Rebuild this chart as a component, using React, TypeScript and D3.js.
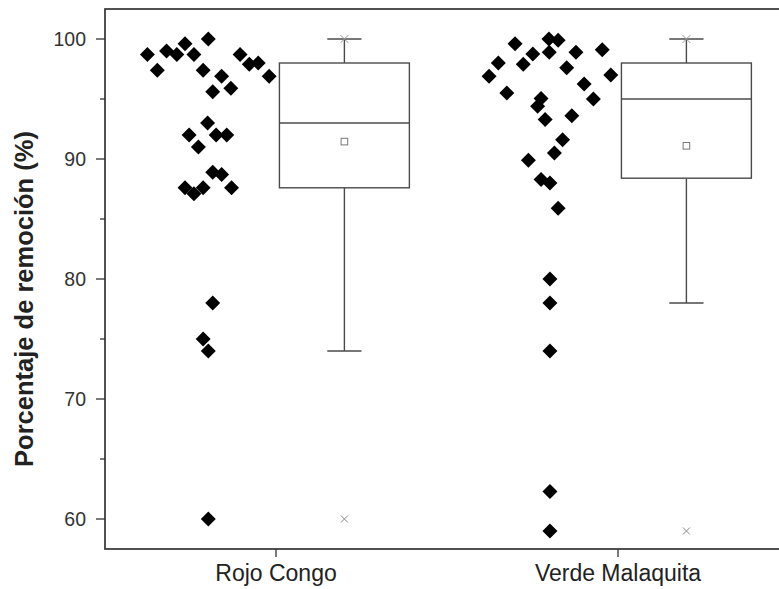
import React, { useEffect } from "react";
import * as d3 from "d3";

const categories = ["Rojo Congo", "Verde Malaquita"];

// Scatter values (% removal) and their horizontal jitter (category units)
const rojoValues = [98.7, 97.4, 99.0, 98.7, 99.6, 98.7, 100, 97.4, 96.9, 95.6, 95.9, 98.7, 97.9, 98.0, 96.9,
  93.0, 92.0, 92.0, 92.0, 91.0, 88.9, 88.7, 87.6, 87.1, 87.6, 87.6, 78.0, 75.0, 74.0, 60.0];
const rojoJitter = [-0.376, -0.347, -0.320, -0.290, -0.266, -0.240, -0.198, -0.213, -0.159, -0.185, -0.132, -0.105, -0.078, -0.052, -0.020,
  -0.200, -0.254, -0.175, -0.144, -0.227, -0.185, -0.159, -0.266, -0.240, -0.213, -0.130, -0.185, -0.213, -0.198, -0.198];

const verdeValues = [99.6, 100, 99.9, 98.9, 98.75, 97.9, 98.0, 96.9, 98.9, 99.1, 97.6, 97.0, 95.5, 96.25, 95.0,
  95.05, 94.4, 93.3, 93.6, 91.6, 90.5, 89.9, 88.3, 88.0, 85.9, 80.0, 78.0, 74.0, 62.3, 59.0];
const verdeJitter = [-0.301, -0.202, -0.175, -0.201, -0.249, -0.277, -0.350, -0.377, -0.123, -0.046, -0.150, -0.021, -0.325, -0.099, -0.072,
  -0.225, -0.235, -0.213, -0.135, -0.162, -0.186, -0.262, -0.225, -0.199, -0.175, -0.199, -0.199, -0.199, -0.199, -0.199];

// Box statistics
const whiskerLow = [74, 78];
const q1 = [87.6, 88.4];
const median = [93, 95];
const q3 = [98, 98];
const whiskerHigh = [100, 100];
const means = [91.45, 91.1];
const outliers = [60, 59];

const yTicks = [60, 70, 80, 90, 100];
const yMinorTicks = [65, 75, 85, 95];

const W = 779;
const H = 589;

export default function App() {
  useEffect(() => {
    document.body.style.margin = "0";
  }, []);

  const left = 105, top = 9, bottom = 549;
  const y = d3.scaleLinear().domain([57.5, 102.5]).range([bottom, top]);
  const x = d3.scaleLinear().domain([0.5, 2.5]).range([left, 789]);

  const series = [
    { values: rojoValues, jitter: rojoJitter },
    { values: verdeValues, jitter: verdeJitter },
  ];

  const diamond = d3.symbol().type(d3.symbolSquare).size(112)() as string;
  const boxOff = 0.2, boxHalf = 0.19, capHalf = 0.05;
  const frameColor = "#333";
  const boxColor = "#4a4a4a";
  const font = "Arial, 'Liberation Sans', sans-serif";

  const cross = (cx: number, cy: number, r: number, key: string, color: string) => (
    <g key={key} stroke={color} strokeWidth={1}>
      <line x1={cx - r} y1={cy - r} x2={cx + r} y2={cy + r} />
      <line x1={cx - r} y1={cy + r} x2={cx + r} y2={cy - r} />
    </g>
  );

  return (
    <svg width={W} height={H} style={{ display: "block", background: "#fff" }} fontFamily={font}>
      {/* frame */}
      <rect x={left} y={top} width={789 - left} height={bottom - top} fill="none" stroke={frameColor} strokeWidth={1.7} />

      {/* y ticks */}
      {yTicks.map((t) => (
        <g key={"yt" + t}>
          <line x1={left - 9} x2={left} y1={y(t)} y2={y(t)} stroke={frameColor} strokeWidth={1.3} />
          <text x={left - 19} y={y(t)} dy="0.36em" textAnchor="end" fontSize={19.5} fill="#333">{t}</text>
        </g>
      ))}
      {yMinorTicks.map((t) => (
        <line key={"ym" + t} x1={left - 5} x2={left} y1={y(t)} y2={y(t)} stroke={frameColor} strokeWidth={1.3} />
      ))}

      {/* x ticks */}
      {categories.map((c, i) => (
        <g key={"xt" + c}>
          <line x1={x(i + 1)} x2={x(i + 1)} y1={bottom} y2={bottom + 8} stroke={frameColor} strokeWidth={1.3} />
          <text x={x(i + 1)} y={bottom + 32} textAnchor="middle" fontSize={23} fill="#222">{c}</text>
        </g>
      ))}

      {/* y label */}
      <text transform={`translate(33,299) rotate(-90)`} textAnchor="middle" fontSize={25.5} fontWeight="bold" fill="#222">
        Porcentaje de remoción (%)
      </text>

      {/* scatter */}
      {series.map((s, si) =>
        s.values.map((v, j) => (
          <path key={`p${si}-${j}`} d={diamond} transform={`translate(${x(si + 1 + s.jitter[j])},${y(v)}) rotate(45)`} fill="#000" />
        ))
      )}

      {/* boxes */}
      {categories.map((c, i) => {
        const cx = x(i + 1 + boxOff);
        const bx0 = x(i + 1 + boxOff - boxHalf);
        const bx1 = x(i + 1 + boxOff + boxHalf);
        const cx0 = x(i + 1 + boxOff - capHalf);
        const cx1 = x(i + 1 + boxOff + capHalf);
        return (
          <g key={"box" + c} stroke={boxColor} strokeWidth={1.4} fill="none">
            <line x1={cx} x2={cx} y1={y(q3[i])} y2={y(whiskerHigh[i])} />
            <line x1={cx} x2={cx} y1={y(q1[i])} y2={y(whiskerLow[i])} />
            <line x1={cx0} x2={cx1} y1={y(whiskerHigh[i])} y2={y(whiskerHigh[i])} />
            <line x1={cx0} x2={cx1} y1={y(whiskerLow[i])} y2={y(whiskerLow[i])} />
            <rect x={bx0} y={y(q3[i])} width={bx1 - bx0} height={y(q1[i]) - y(q3[i])} fill="#fff" />
            <line x1={bx0} x2={bx1} y1={y(median[i])} y2={y(median[i])} />
            <rect x={cx - 3.3} y={y(means[i]) - 3.3} width={6.6} height={6.6} stroke="#777" strokeWidth={1} fill="#fff" />
            {cross(cx, y(whiskerHigh[i]), 4, "mx" + i, "#999")}
            {cross(cx, y(outliers[i]), 3.5, "ox" + i, "#888")}
          </g>
        );
      })}
    </svg>
  );
}
